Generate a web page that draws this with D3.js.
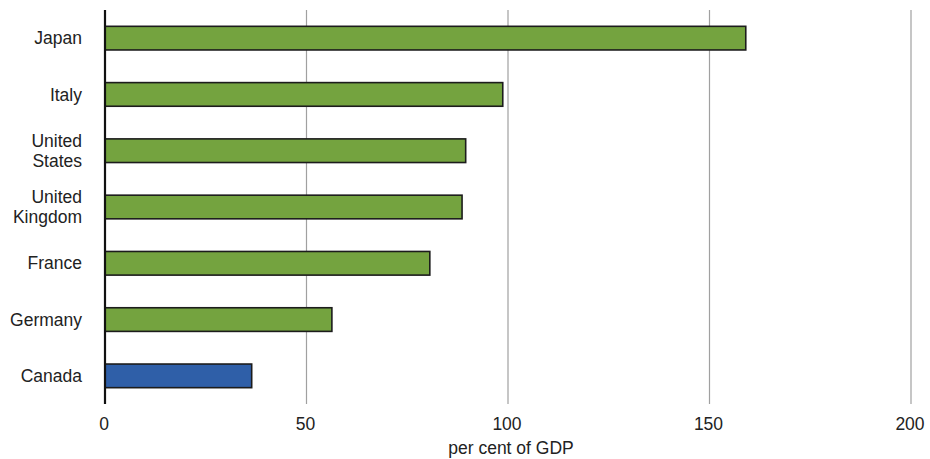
<!DOCTYPE html>
<html>
<head>
<meta charset="utf-8">
<script src="https://cdn.jsdelivr.net/npm/d3@7"></script>
<style>
  html, body { margin: 0; padding: 0; background: #fff; }
  text { font-family: "Liberation Sans", Arial, Helvetica, sans-serif; fill: #222; }
</style>
</head>
<body>
<svg id="chart" width="930" height="459"></svg>
<script>
const categories = ["Japan", "Italy", "United States", "United Kingdom", "France", "Germany", "Canada"];
const values = [159, 98.7, 89.5, 88.6, 80.6, 56.3, 36.4];
const highlight = ["Canada"];
const xTicks = [0, 50, 100, 150, 200];
const xTitle = "per cent of GDP";

const svg = d3.select("#chart");
const margin = { left: 105, right: 19, top: 10, bottom: 55 };
const W = 930, H = 459;

const x = d3.scaleLinear().domain([0, 200]).range([margin.left, W - margin.right]);
const y = d3.scaleBand().domain(categories).range([margin.top, H - margin.bottom]).paddingInner(0.58).paddingOuter(0.29);

// gridlines
svg.append("g")
  .selectAll("line")
  .data(xTicks.filter(d => d !== 0))
  .join("line")
  .attr("x1", d => x(d)).attr("x2", d => x(d))
  .attr("y1", margin.top).attr("y2", H - margin.bottom)
  .attr("stroke", "#a0a0a0").attr("stroke-width", 1.2);

// bars
svg.append("g")
  .selectAll("rect")
  .data(categories)
  .join("rect")
  .attr("x", x(0))
  .attr("y", d => y(d))
  .attr("width", (d, i) => x(values[i]) - x(0))
  .attr("height", y.bandwidth())
  .attr("fill", d => highlight.includes(d) ? "#2f5fa8" : "#74a33f")
  .attr("stroke", "#1c1c1c").attr("stroke-width", 1.6);

// y axis line
svg.append("line")
  .attr("x1", x(0)).attr("x2", x(0))
  .attr("y1", margin.top).attr("y2", H - margin.bottom)
  .attr("stroke", "#111").attr("stroke-width", 2.2);

// category labels
const fs = 17.5;
const labels = svg.append("g").selectAll("text").data(categories).join("text")
  .attr("text-anchor", "end")
  .attr("font-size", fs);
labels.each(function(d) {
  const t = d3.select(this);
  const cy = y(d) + y.bandwidth() / 2;
  const parts = d.split(" ");
  const lh = 19.5;
  const start = cy - (parts.length - 1) * lh / 2 + fs * 0.35;
  parts.forEach((p, i) => {
    t.append("tspan").attr("x", 82).attr("y", start + i * lh).text(p);
  });
});

// x tick labels
svg.append("g").selectAll("text").data(xTicks).join("text")
  .attr("x", d => x(d) - 1)
  .attr("y", 430)
  .attr("text-anchor", "middle")
  .attr("font-size", fs)
  .text(d => d);

svg.append("text")
  .attr("x", 511).attr("y", 454)
  .attr("text-anchor", "middle")
  .attr("font-size", fs)
  .text(xTitle);
</script>
</body>
</html>
